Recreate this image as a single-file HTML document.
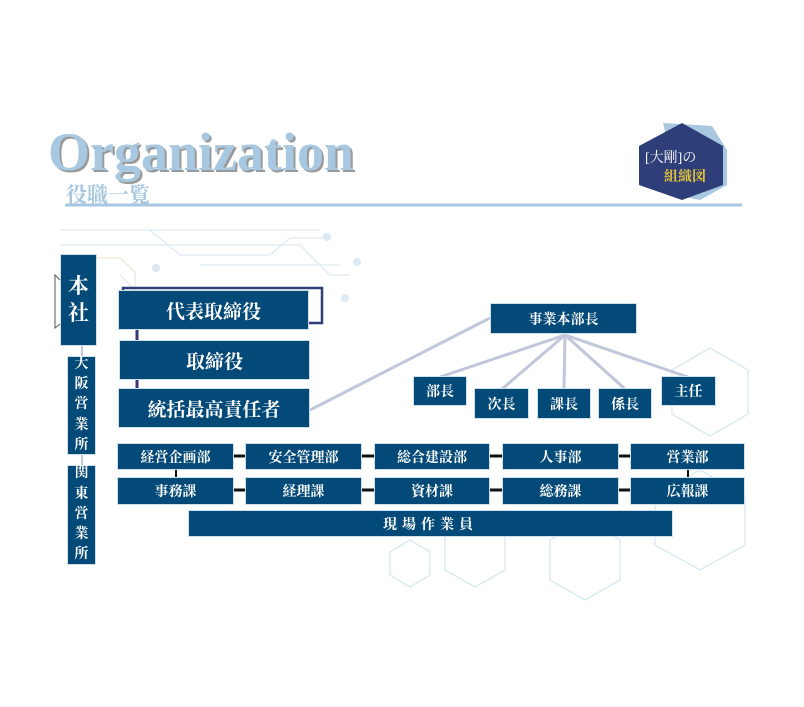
<!DOCTYPE html>
<html><head><meta charset="utf-8"><style>
body{margin:0;width:804px;height:707px;background:#fff;position:relative;overflow:hidden;font-family:"Liberation Serif","Noto Serif CJK SC",serif}
.b{position:absolute;background:#044a78;color:#fff;font-weight:bold;display:flex;align-items:center;justify-content:center;box-sizing:border-box;border:1px solid #cfe0ec}
.v{flex-direction:column;line-height:1.3}
</style></head><body>
<svg width="804" height="707" style="position:absolute;left:0;top:0">
<g stroke="#dde9f3" fill="none" stroke-width="1.2">
<path d="M60 230 H320 M60 245 H300 L330 275 H350"/>
<path d="M150 230 L180 255 H270 L290 238 H325"/>
<path d="M200 265 H340 M120 275 L140 295"/>
<circle cx="327" cy="237" r="3.5" fill="#dde9f3"/><circle cx="357" cy="262" r="3.5" fill="#dde9f3"/><circle cx="345" cy="298" r="3.5" fill="#dde9f3"/><circle cx="156" cy="268" r="3.5" fill="#dde9f3"/>
<path d="M60 258 H120 L135 272 V330" stroke="#f6e3d2"/>
<g stroke="#d4e6ee">
<path d="M710 348 L748 370 V414 L710 436 L672 414 V370 Z"/>
<path d="M585 520 L620 540 V580 L585 600 L550 580 V540 Z"/>
<path d="M700 470 L745 495 V545 L700 570 L655 545 V495 Z"/>
<path d="M475 520 L505 537 V570 L475 587 L445 570 V537 Z"/>
<path d="M410 540 L430 552 V575 L410 587 L390 575 V552 Z"/>
</g></g>
<g stroke="#c1c6da" stroke-width="3" fill="none">
<line x1="310" y1="410" x2="490" y2="318"/>
<line x1="565" y1="335" x2="440" y2="377"/>
<line x1="565" y1="335" x2="502" y2="389"/>
<line x1="565" y1="335" x2="564" y2="389"/>
<line x1="565" y1="335" x2="625" y2="389"/>
<line x1="565" y1="335" x2="688" y2="377"/>
<line x1="82" y1="345" x2="82" y2="565" stroke-width="2"/>
</g>
<rect x="123" y="288" width="199" height="35" fill="none" stroke="#2e3e78" stroke-width="2.5"/>
<line x1="137" y1="328" x2="137" y2="400" stroke="#2e3e78" stroke-width="3"/>
<g stroke="#111" stroke-width="3">
<line x1="234" y1="456" x2="374" y2="456"/><line x1="490" y1="456" x2="630" y2="456"/>
<line x1="234" y1="490" x2="374" y2="490"/><line x1="490" y1="490" x2="630" y2="490"/>
<line x1="176" y1="468" x2="176" y2="478" stroke-width="2"/><line x1="688" y1="468" x2="688" y2="478" stroke-width="2"/>
</g>
<path d="M55 275 L70 290 L72 315 L55 328 Z" fill="none" stroke="#555"/>
<path d="M663 123 L712 126 L727 150 V185 L700 200 L680 196 Z" fill="#a7c8e0"/>
<path d="M682 123 L723 146 V185 L682 200 L639 185 V146 Z" fill="#2e3e78"/>
<text x="645" y="162" fill="#fff" font-size="14" font-family="Liberation Serif,Noto Serif CJK SC,serif">[大剛]の</text>
<text x="664" y="181" fill="#e8c436" font-size="14" font-weight="bold" font-family="Liberation Serif,Noto Serif CJK SC,serif">組織図</text>
<text x="50" y="172" font-size="54" font-weight="bold" fill="#999" font-family="Liberation Serif,serif">Organization</text>
<text x="48" y="170" font-size="54" font-weight="bold" fill="#a7c8e0" font-family="Liberation Serif,serif">Organization</text>
<text x="66" y="202" font-size="21" font-weight="bold" fill="#a7c8e0" font-family="Liberation Serif,Noto Serif CJK SC,serif">役職一覧</text>
<line x1="65" y1="205" x2="742" y2="205" stroke="#a7c8e0" stroke-width="3"/>
</svg>
<div class="b v" style="left:60px;top:254px;width:37px;height:92px;font-size:21px">本<br>社</div>
<div class="b v" style="left:67px;top:356px;width:29px;height:99px;font-size:14px;line-height:1.45">大<br>阪<br>営<br>業<br>所</div>
<div class="b v" style="left:67px;top:465px;width:29px;height:100px;font-size:14px;line-height:1.45">関<br>東<br>営<br>業<br>所</div>
<div class="b" style="left:118px;top:290px;width:191px;height:40px;font-size:19px">代表取締役</div>
<div class="b" style="left:119px;top:340px;width:191px;height:40px;font-size:19px">取締役</div>
<div class="b" style="left:118px;top:388px;width:192px;height:40px;font-size:19px">統括最高責任者</div>
<div class="b" style="left:490px;top:303px;width:147px;height:31px;font-size:14px">事業本部長</div>
<div class="b" style="left:413px;top:376px;width:54px;height:30px;font-size:14px">部長</div>
<div class="b" style="left:474px;top:388px;width:55px;height:31px;font-size:14px">次長</div>
<div class="b" style="left:537px;top:388px;width:54px;height:31px;font-size:14px">課長</div>
<div class="b" style="left:598px;top:388px;width:54px;height:31px;font-size:14px">係長</div>
<div class="b" style="left:661px;top:376px;width:55px;height:30px;font-size:14px">主任</div>
<div class="b" style="left:117px;top:443px;width:117px;height:27px;font-size:14px">経営企画部</div>
<div class="b" style="left:245px;top:443px;width:117px;height:27px;font-size:14px">安全管理部</div>
<div class="b" style="left:374px;top:443px;width:116px;height:27px;font-size:14px">総合建設部</div>
<div class="b" style="left:502px;top:443px;width:117px;height:27px;font-size:14px">人事部</div>
<div class="b" style="left:630px;top:443px;width:115px;height:27px;font-size:14px">営業部</div>
<div class="b" style="left:117px;top:477px;width:117px;height:28px;font-size:14px">事務課</div>
<div class="b" style="left:245px;top:477px;width:117px;height:28px;font-size:14px">経理課</div>
<div class="b" style="left:374px;top:477px;width:116px;height:28px;font-size:14px">資材課</div>
<div class="b" style="left:502px;top:477px;width:117px;height:28px;font-size:14px">総務課</div>
<div class="b" style="left:630px;top:477px;width:115px;height:28px;font-size:14px">広報課</div>
<div class="b" style="left:188px;top:510px;width:485px;height:27px;font-size:14px;letter-spacing:5px">現場作業員</div>
</body></html>
